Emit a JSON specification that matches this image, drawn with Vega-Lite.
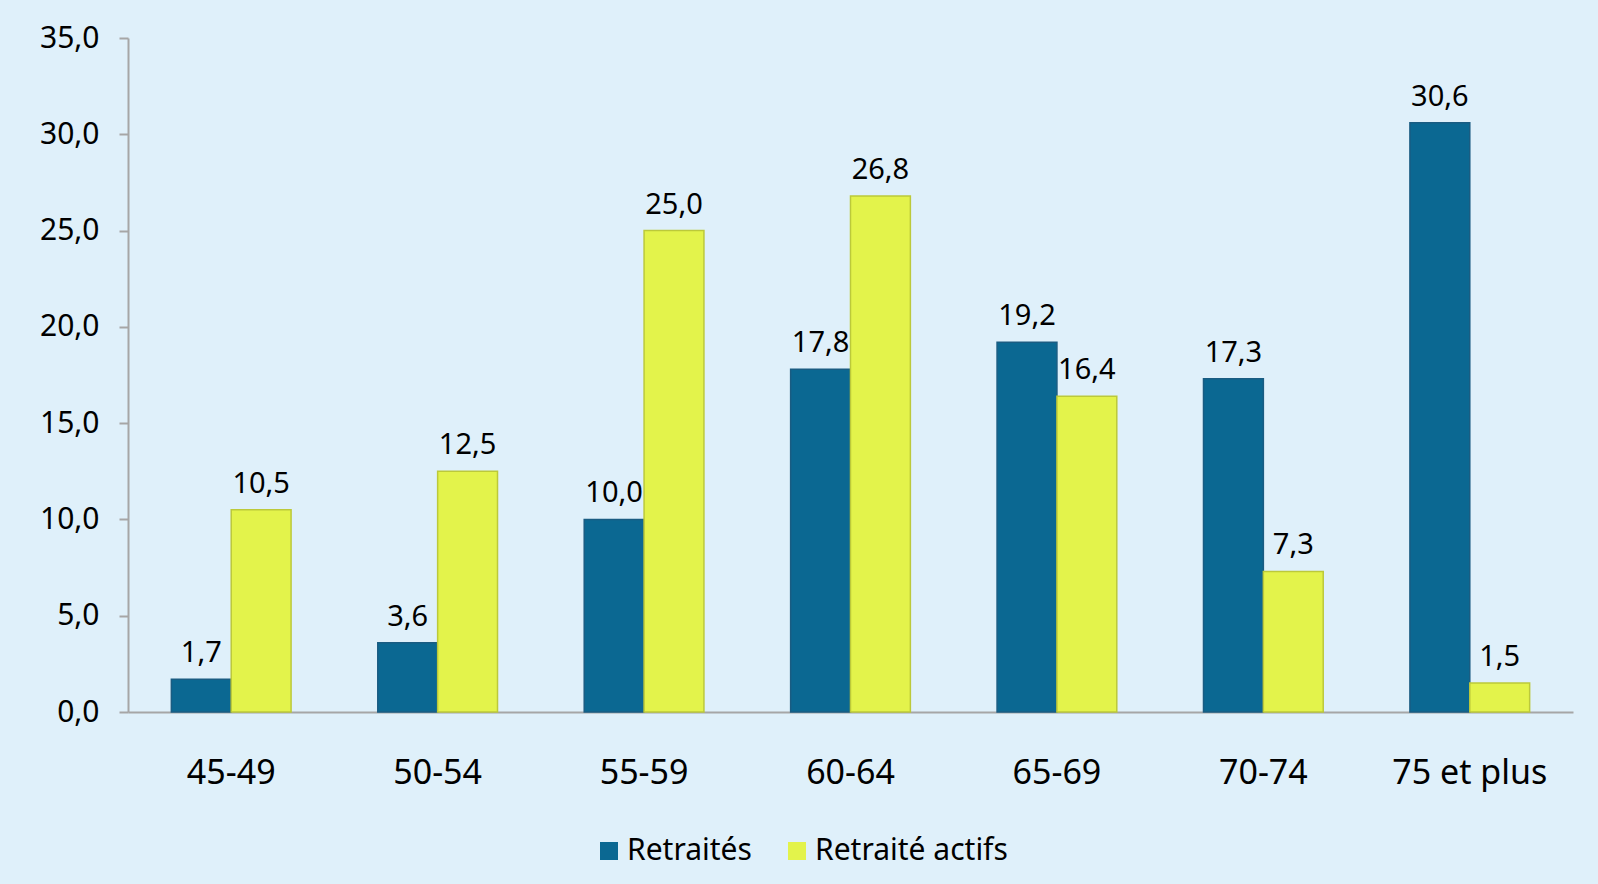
{
  "$schema": "https://vega.github.io/schema/vega-lite/v6.json",
  "width": 1445,
  "height": 674,
  "autosize": {"type": "none"},
  "padding": {"left": 128, "top": 38, "right": 25, "bottom": 172},
  "background": "#DFF0FA",
  "config": {
    "locale": {"number": {"decimal": ",", "thousands": " ", "grouping": [3], "currency": ["", " €"]}},
    "view": {"stroke": null},
    "font": "Noto Sans"
  },
  "data": {
    "values": [
      {"age": "45-49", "serie": "Retraités", "valeur": 1.7},
      {"age": "45-49", "serie": "Retraité actifs", "valeur": 10.5},
      {"age": "50-54", "serie": "Retraités", "valeur": 3.6},
      {"age": "50-54", "serie": "Retraité actifs", "valeur": 12.5},
      {"age": "55-59", "serie": "Retraités", "valeur": 10.0},
      {"age": "55-59", "serie": "Retraité actifs", "valeur": 25.0},
      {"age": "60-64", "serie": "Retraités", "valeur": 17.8},
      {"age": "60-64", "serie": "Retraité actifs", "valeur": 26.8},
      {"age": "65-69", "serie": "Retraités", "valeur": 19.2},
      {"age": "65-69", "serie": "Retraité actifs", "valeur": 16.4},
      {"age": "70-74", "serie": "Retraités", "valeur": 17.3},
      {"age": "70-74", "serie": "Retraité actifs", "valeur": 7.3},
      {"age": "75 et plus", "serie": "Retraités", "valeur": 30.6},
      {"age": "75 et plus", "serie": "Retraité actifs", "valeur": 1.5}
    ]
  },
  "encoding": {
    "x": {
      "field": "age",
      "type": "nominal",
      "sort": null,
      "scale": {"paddingInner": 0.42, "paddingOuter": 0.21},
      "axis": {
        "title": null,
        "labelAngle": 0,
        "labelFontSize": 34,
        "labelColor": "#000000",
        "ticks": false,
        "tickSize": 0,
        "labelPadding": 44,
        "domainColor": "#A6A6A6",
        "domainWidth": 2
      }
    },
    "xOffset": {"field": "serie", "type": "nominal", "sort": ["Retraités", "Retraité actifs"]},
    "y": {
      "field": "valeur",
      "type": "quantitative",
      "scale": {"domain": [0, 35], "nice": false},
      "axis": {
        "title": null,
        "values": [0, 5, 10, 15, 20, 25, 30, 35],
        "format": ".1f",
        "labelFontSize": 30,
        "labelColor": "#000000",
        "labelPadding": 20,
        "tickSize": 9,
        "tickColor": "#A6A6A6",
        "tickWidth": 2,
        "domainColor": "#A6A6A6",
        "domainWidth": 2,
        "grid": false
      }
    }
  },
  "layer": [
    {
      "mark": {"type": "bar", "strokeWidth": 1.5},
      "encoding": {
        "color": {
          "field": "serie",
          "type": "nominal",
          "scale": {"domain": ["Retraités", "Retraité actifs"], "range": ["#0B6892", "#E3F34B"]},
          "legend": {
            "title": null,
            "orient": "none",
            "legendX": 466,
            "legendY": 798,
            "direction": "horizontal",
            "symbolType": "square",
            "symbolSize": 324,
            "symbolStrokeWidth": 0,
            "labelFontSize": 30,
            "labelColor": "#000000",
            "labelLimit": 0,
            "columnPadding": 30,
            "labelOffset": 3
          }
        },
        "stroke": {
          "field": "serie",
          "type": "nominal",
          "scale": {"domain": ["Retraités", "Retraité actifs"], "range": ["#1A5C82", "#BCC93A"]},
          "legend": null
        }
      }
    },
    {
      "mark": {"type": "text", "baseline": "alphabetic", "dy": -17, "fontSize": 29, "color": "#000000"},
      "encoding": {
        "text": {"field": "valeur", "type": "quantitative", "format": ".1f"}
      }
    }
  ]
}
